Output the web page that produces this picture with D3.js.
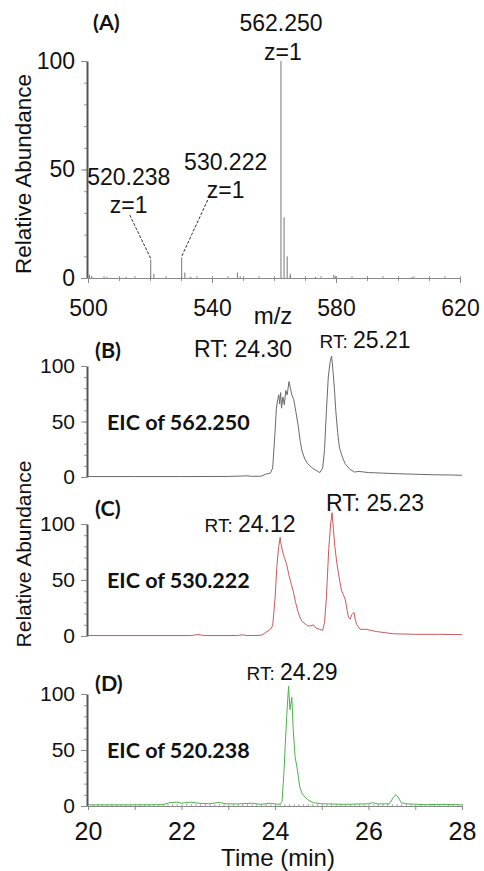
<!DOCTYPE html>
<html>
<head>
<meta charset="utf-8">
<script src="https://cdn.jsdelivr.net/npm/d3@7"></script>
<style>
  body { margin: 0; background: #fff; }
  svg { display: block; }
  .num { font-family: "Liberation Sans", Arial, sans-serif; fill: #111; }
  .bold { font-family: Lato, "Open Sans", sans-serif; font-weight: bold; fill: #111; }
</style>
</head>
<body>
<svg id="chart" width="484" height="871"></svg>
<script>
// ---- (A) mass spectrum ----
const mzValues    = [500.5, 501.2, 506.1, 512.3, 520.238, 521.24, 530.222, 531.22, 533.1, 548.2, 549.1, 562.250, 563.25, 564.25, 565.26, 573.4, 579.3, 579.8, 590.2, 604.5];
const mzIntensity = [1.5,   1.0,   0.5,   0.5,   8.5,     2.0,    9.5,     2.5,    0.6,   2.5,   0.8,   100,     28,     10,     2,      0.5,   1.5,   0.8,   0.4,   0.4];
const mzTicks = [500, 540, 580, 620];
const abundanceTicks = [0, 50, 100];
const timeTicks = [20, 22, 24, 26, 28];

// peak annotations in (A)
const peakLabelMz = [562.250, 530.222, 520.238];
const peakLabelText = ["562.250", "530.222", "520.238"];
const chargeText = ["z=1", "z=1", "z=1"];

// ---- EIC traces ----
const eic562Time  = [20.0, 21.0, 22.0, 23.0, 23.3, 23.4, 23.5, 23.7, 23.8, 23.9, 23.95, 24.0, 24.03, 24.06, 24.08, 24.1, 24.12, 24.14, 24.17, 24.2, 24.23, 24.26, 24.3, 24.33, 24.36, 24.4, 24.45, 24.5, 24.54, 24.58, 24.64, 24.7, 24.8, 24.9, 24.96, 25.02, 25.06, 25.1, 25.14, 25.18, 25.21, 25.24, 25.27, 25.3, 25.34, 25.38, 25.45, 25.5, 25.6, 25.7, 25.8, 25.9, 26.0, 26.3, 26.6, 27.0, 27.4, 27.8, 28.0];
const eic562Value = [0.4,  0.4,  0.4,  0.5,  0.9,  1.1,  0.6,  0.7,  2.5,  3.5,  8,     40,   62,    70,    74,    66,   76,    62,    72,    65,   78,    74,    86,   80,    74,    70,   58,    45,   32,    23,    16,    12,   8,    5.5,  4,     8,     25,    60,   90,    104,   109,   96,    80,    60,   40,    26,    17,    12,   7,    4.5,  5,    4.5,  4,    3.5,  3,    2.5,  2,    1.8,  1.5];
const eic562RT = [24.30, 25.21];

const eic530Time  = [20.0, 22.2, 22.35, 22.5, 23.2, 23.3, 23.4, 23.7, 23.8, 23.9, 23.95, 24.0, 24.04, 24.08, 24.11, 24.13, 24.16, 24.2, 24.25, 24.3, 24.35, 24.39, 24.44, 24.49, 24.53, 24.58, 24.64, 24.7, 24.76, 24.82, 24.88, 24.95, 25.02, 25.06, 25.1, 25.15, 25.19, 25.22, 25.25, 25.28, 25.32, 25.35, 25.39, 25.42, 25.46, 25.5, 25.54, 25.57, 25.61, 25.64, 25.69, 25.72, 25.75, 25.82, 25.95, 26.05, 26.17, 26.35, 26.53, 27.0, 27.5, 28.0];
const eic530Value = [0.4,  0.4,  1.3,   0.4,  0.4,  1.1,  0.4,  0.6,  3,    6,    9,     33,   62,    80,    88,    82,    76,    70,   64,    54,   46,    40,    30,    22,    17,    13,    11,    9,    9,     10,    7,     6,     5,     12,    35,   78,    100,   110,   95,    80,    66,    58,    48,    41,    37,    33,   24,    17,    15,    19,    21,    14,    10,    6,     6,     5,     4,     3,     2,     1.5,  1.5,  1.2];
const eic530RT = [24.12, 25.23];

const eic520Time  = [20.0, 21.0, 21.6, 21.75, 21.9, 22.0, 22.2, 22.35, 22.6, 22.8, 22.95, 23.2, 23.5, 23.7, 23.9, 24.05, 24.12, 24.15, 24.19, 24.22, 24.25, 24.29, 24.32, 24.36, 24.39, 24.43, 24.48, 24.53, 24.58, 24.64, 24.72, 24.82, 25.0, 25.5, 26.0, 26.1, 26.2, 26.45, 26.52, 26.58, 26.63, 26.7, 26.8, 27.2, 27.6, 28.0];
const eic520Value = [1,    1,    1.2,  3,     3.5,  2.5,  3.5,  2.5,   2,    3.2,  2,     1.8,  2.5,  1.5,  2.5,  1.5,   2,     4,     29,    55,    80,    107,   86,    97,    68,    44,    32,    17,    11,    8,     5,     3,     2,    1.5,  2,    3,    1.8,  2,     7,     10,    8,     3,    2,    1.2,  1.5,  1];
const eic520RT = [24.29];

const svg = d3.select("#chart");
svg.append("rect").attr("width", 484).attr("height", 871).attr("fill", "#fff");

const axisX = 87;
const xMz = d3.scaleLinear().domain([500, 620]).range([88, 460]);
const yMz = d3.scaleLinear().domain([0, 100]).range([278, 61]);
const xTime = d3.scaleLinear().domain([20, 28]).range([88, 462]);

function styleAxis(g, size) {
  g.select(".domain").attr("stroke", "#555").attr("stroke-width", 2);
  g.selectAll(".tick line").attr("stroke", "#888");
  g.selectAll(".tick text").attr("class", "num").style("font-size", size + "px")
    .attr("fill", "#111");
}

// vertical abundance axis with minor ticks every 10
function drawYAxis(y, fontSize) {
  svg.append("g")
    .attr("transform", `translate(${axisX},0)`)
    .call(d3.axisLeft(y).tickValues(d3.range(10, 100, 10)).tickSize(3).tickFormat("").tickSizeOuter(0))
    .call(g => g.select(".domain").remove())
    .call(g => g.selectAll(".tick line").attr("stroke", "#999"));
  const g = svg.append("g")
    .attr("transform", `translate(${axisX},0)`)
    .call(d3.axisLeft(y).tickValues(abundanceTicks).tickSize(6).tickPadding(6).tickSizeOuter(0));
  styleAxis(g, fontSize);
}

// ---------- panel A ----------
drawYAxis(yMz, 23);

// x axis of spectrum
svg.append("g")
  .attr("transform", `translate(0,${yMz(0)})`)
  .call(d3.axisTop(xMz).tickValues(d3.range(500, 621, 5)).tickSize(2).tickFormat("").tickSizeOuter(0))
  .call(g => g.select(".domain").attr("stroke", "#888").attr("stroke-width", 1.2))
  .call(g => g.selectAll(".tick line").attr("stroke", "#999"));
svg.append("g")
  .attr("transform", `translate(0,${yMz(0)})`)
  .call(d3.axisBottom(xMz).tickValues(d3.range(500, 621, 10)).tickSize(3).tickFormat("").tickSizeOuter(0))
  .call(g => g.select(".domain").remove())
  .call(g => g.selectAll(".tick line").attr("stroke", "#999"));
const gxA = svg.append("g")
  .attr("transform", `translate(0,${yMz(0)})`)
  .call(d3.axisBottom(xMz).tickValues(mzTicks).tickSize(5).tickPadding(17).tickSizeOuter(0));
styleAxis(gxA, 23);
gxA.select(".domain").attr("stroke", "#888").attr("stroke-width", 1.2);

// spectrum sticks
svg.append("g").selectAll("line")
  .data(mzValues.map((m, i) => ({ mz: m, v: mzIntensity[i] })))
  .join("line")
  .attr("x1", d => xMz(d.mz)).attr("x2", d => xMz(d.mz))
  .attr("y1", yMz(0)).attr("y2", d => yMz(d.v))
  .attr("stroke", "#777").attr("stroke-width", 1);

// peak labels
const labelLayout = [
  { dx: 0,   top: 31,  zdx: 2,   zy: 60 },
  { dx: 44,  top: 170, zdx: 44,  zy: 198 },
  { dx: -22, top: 185, zdx: -22, zy: 213 }
];
peakLabelMz.forEach((m, i) => {
  const L = labelLayout[i];
  const cx = xMz(m) + L.dx;
  svg.append("text").attr("class", "num").attr("x", cx).attr("y", L.top)
    .attr("text-anchor", "middle").style("font-size", "23px").text(peakLabelText[i]);
  svg.append("text").attr("class", "num").attr("x", xMz(m) + L.zdx).attr("y", L.zy)
    .attr("text-anchor", "middle").style("font-size", "23px").text(chargeText[i]);
  if (i > 0) {
    const top = mzIntensity[mzValues.indexOf(m)];
    const sx = i === 1 ? xMz(m) + L.zdx - 18 : xMz(m) + L.zdx + 1;
    svg.append("line")
      .attr("x1", sx).attr("y1", L.zy + 2)
      .attr("x2", xMz(m)).attr("y2", yMz(top) - 1)
      .attr("stroke", "#333").attr("stroke-width", 1)
      .attr("stroke-dasharray", "3,1.5");
  }
});

svg.append("text").attr("class", "bold").attr("x", 93).attr("y", 30)
  .style("font-size", "21.5px").text("(A)");
svg.append("text").attr("class", "num").attr("x", 273).attr("y", 324)
  .attr("text-anchor", "middle").style("font-size", "24px").text("m/z");
svg.append("text").attr("class", "num")
  .attr("transform", "translate(31,174) rotate(-90)")
  .attr("text-anchor", "middle").style("font-size", "22.5px").text("Relative Abundance");

// ---------- EIC panels ----------
const panels = [
  { tag: "(B)", name: "EIC of 562.250", t: eic562Time, v: eic562Value, rt: eic562RT,
    range: [477, 366], color: "#6a6a6a", tagY: 358,
    rtPos: [{ x: 243, y: 357, small: false }, { x: 365, y: 348, small: true }] },
  { tag: "(C)", name: "EIC of 530.222", t: eic530Time, v: eic530Value, rt: eic530RT,
    range: [636, 524], color: "#c85a5a", tagY: 516,
    rtPos: [{ x: 250, y: 532, small: true }, { x: 375, y: 511, small: false }] },
  { tag: "(D)", name: "EIC of 520.238", t: eic520Time, v: eic520Value, rt: eic520RT,
    range: [806, 694], color: "#4cb34c", tagY: 691,
    rtPos: [{ x: 292, y: 680, small: true }] }
];

panels.forEach((p, k) => {
  const y = d3.scaleLinear().domain([0, 100]).range(p.range);
  drawYAxis(y, 21);

  if (k === panels.length - 1) {
    svg.append("g")
      .attr("transform", `translate(0,${y(0)})`)
      .call(d3.axisTop(xTime).tickValues(d3.range(20, 28.01, 0.1)).tickSize(2).tickFormat("").tickSizeOuter(0))
      .call(g => g.select(".domain").attr("stroke", "#888").attr("stroke-width", 1.2))
      .call(g => g.selectAll(".tick line").attr("stroke", "#aaa"));
    const gx = svg.append("g")
      .attr("transform", `translate(0,${y(0)})`)
      .call(d3.axisBottom(xTime).tickValues(d3.range(20, 29, 1)).tickSize(4).tickPadding(12)
        .tickFormat(d => timeTicks.includes(d) ? d : "").tickSizeOuter(0));
    styleAxis(gx, 25);
    gx.select(".domain").attr("stroke", "#888").attr("stroke-width", 1.2);
    svg.append("text").attr("class", "num").attr("x", 278).attr("y", 866)
      .attr("text-anchor", "middle").style("font-size", "24px").text("Time (min)");
  }

  const line = d3.line().x(d => xTime(d[0])).y(d => y(d[1]));
  svg.append("path")
    .datum(p.t.map((t, i) => [t, p.v[i]]))
    .attr("d", line)
    .attr("fill", "none").attr("stroke", p.color).attr("stroke-width", 1)
    .attr("stroke-linejoin", "round");

  svg.append("text").attr("class", "bold").attr("x", 95).attr("y", p.tagY)
    .style("font-size", "21.5px").text(p.tag);
  svg.append("text").attr("class", "bold").attr("x", 107).attr("y", y(50) + 8)
    .style("font-size", "21.5px").text(p.name);

  p.rt.forEach((rt, j) => {
    const pos = p.rtPos[j];
    const t = svg.append("text").attr("class", "num").attr("x", pos.x).attr("y", pos.y)
      .attr("text-anchor", "middle");
    t.append("tspan").style("font-size", pos.small ? "19px" : "23px").text("RT: ");
    t.append("tspan").style("font-size", "23px").text(rt.toFixed(2));
  });
});

svg.append("text").attr("class", "num")
  .attr("transform", "translate(31,554) rotate(-90)")
  .attr("text-anchor", "middle").style("font-size", "21px").text("Relative Abundance");
</script>
</body>
</html>
